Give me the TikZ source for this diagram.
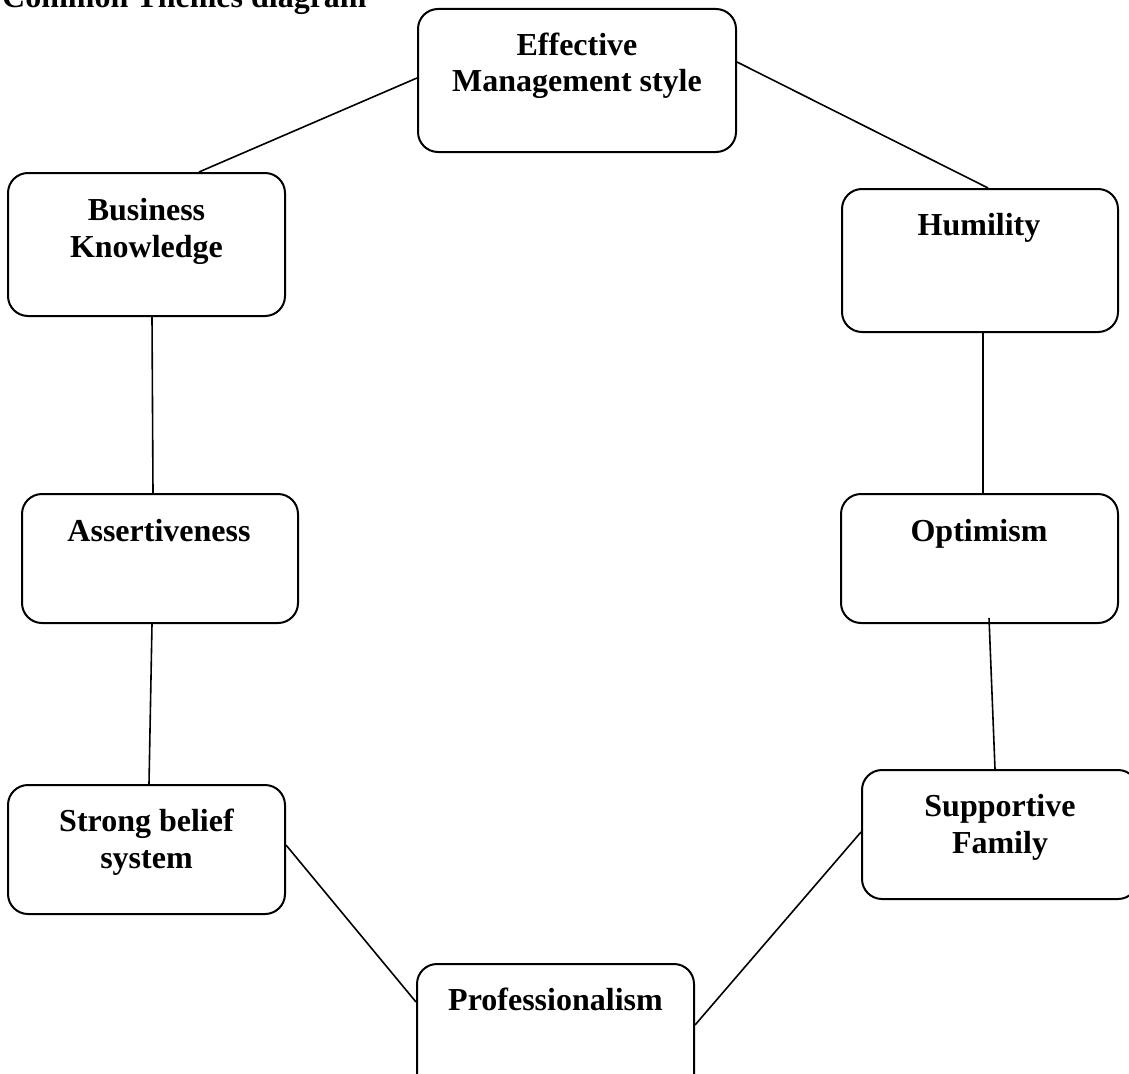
\documentclass[tikz,border=0pt]{standalone}
\usepackage{fontspec}
\setmainfont{Liberation Serif}
\usetikzlibrary{positioning, calc}

\tikzset{
  themebox/.style={draw, rounded corners=20pt, line width=2pt, inner sep=0pt},
  themetext/.style={inner sep=0pt, anchor=base, align=center,
    font=\fontsize{32}{36.5}\selectfont\bfseries},
  link/.style={line width=1.6pt}
}

\begin{document}
\begin{tikzpicture}[x=1pt, y=-1pt]
\useasboundingbox (0,0) rectangle (1129,1073);
\clip (0,0) rectangle (1129,1073);

\node[themetext, anchor=base west] (title) at (2,8) {Common Themes diagram};

% boxes
\node[themebox, minimum width=318pt, minimum height=143pt] (ems)  at (577,80.5)   {};
\node[themebox, minimum width=277pt, minimum height=143pt] (bk)   at (146.5,244.5) {};
\node[themebox, minimum width=276pt, minimum height=143pt] (hum)  at (980,260.5)  {};
\node[themebox, minimum width=276pt, minimum height=129pt] (ass)  at (160,558.5)  {};
\node[themebox, minimum width=277pt, minimum height=129pt] (opt)  at (979.5,558.5) {};
\node[themebox, minimum width=277pt, minimum height=129pt] (sb)   at (146.5,849.5) {};
\node[themebox, minimum width=276pt, minimum height=129pt] (sf)   at (1000,834.5) {};
\node[themebox, minimum width=277pt, minimum height=136pt] (prof) at (555.5,1032) {};

% texts (base = last line)
\node[themetext] (emst)  at (577,92)    {Effective\\Management style};
\node[themetext] (bkt)   at (146.5,257) {Business\\Knowledge};
\node[themetext] (humt)  at (979,235)   {Humility};
\node[themetext] (asst)  at (159,541)   {Assertiveness};
\node[themetext] (optt)  at (979,541)   {Optimism};
\node[themetext] (sbt)   at (146.5,868) {Strong belief\\system};
\node[themetext] (sft)   at (1000,853)  {Supportive\\Family};
\node[themetext] (proft) at (555.5,1010) {Professionalism};

\path[link]
    ([yshift=2.5pt]ems.west)  edge ([xshift=52.5pt]bk.north)
    ([yshift=18.5pt]ems.east) edge ([xshift=8pt]hum.north)
    ([xshift=5.5pt]bk.south)  edge ([xshift=-7pt]ass.north)
    ([xshift=3pt]hum.south)   edge ([xshift=3.5pt]opt.north)
    ([xshift=9.5pt,yshift=6pt]opt.south) edge ([xshift=-5pt]sf.north)
    ([xshift=-8pt]ass.south)  edge ([xshift=2.5pt]sb.north)
    ([yshift=4.5pt]sb.east)   edge ([yshift=30pt]prof.west)
    ([yshift=7pt]prof.east)   edge ([yshift=2.5pt]sf.west);
\end{tikzpicture}
\end{document}
